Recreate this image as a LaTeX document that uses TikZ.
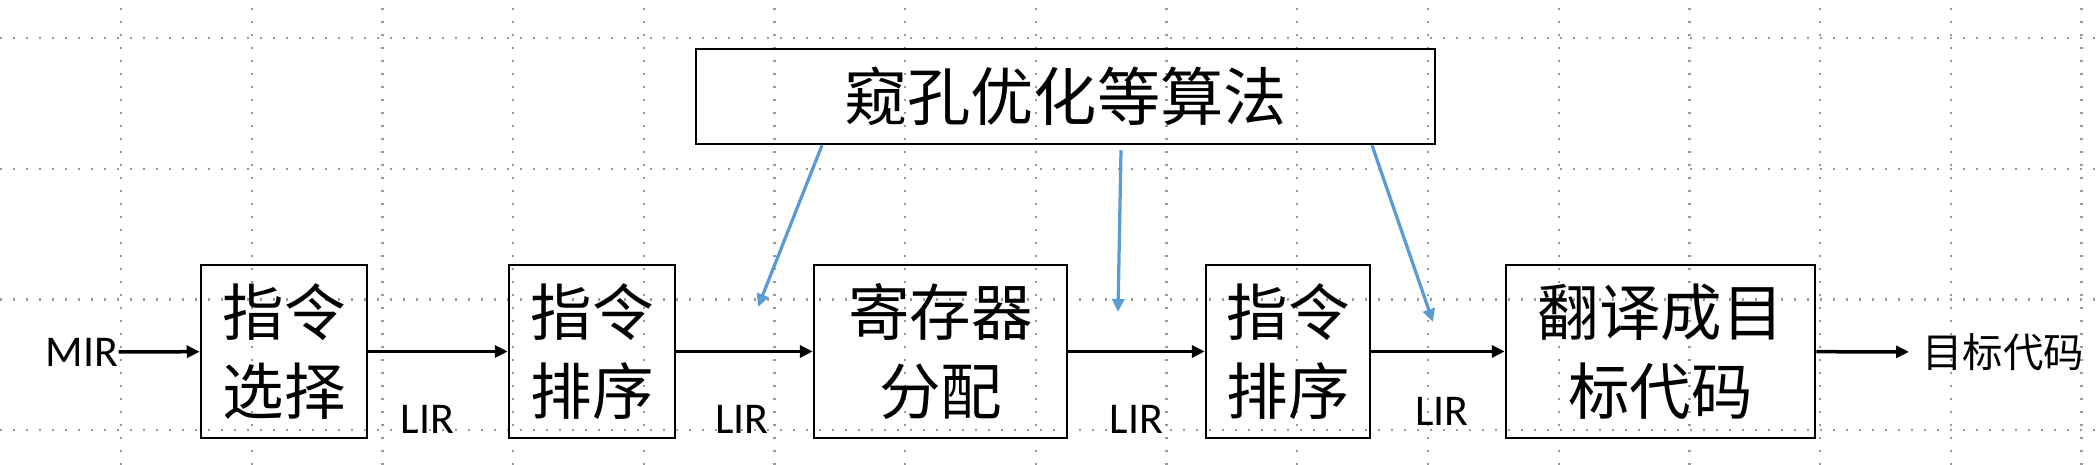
\documentclass[tikz,border=0pt]{standalone}
\usepackage{fontspec}
\setmainfont{Carlito}
\newfontfamily\cjk{Noto Sans CJK SC}
\usetikzlibrary{arrows.meta}
\definecolor{hintblue}{HTML}{5B9BD5}
\tikzset{
	passbox/.style={draw,line width=0.05cm,inner sep=0,align=center,
		font=\cjk\fontsize{35}{45}\selectfont},
	flow/.style={line width=0.07cm,-{Triangle[length=0.26cm,width=0.24cm]}},
	hint/.style={hintblue,line width=0.065cm,-{Triangle[length=0.26cm,width=0.24cm]}},
	irlabel/.style={inner sep=0,font=\fontsize{25}{25}\selectfont}
}
\begin{document}
\begin{tikzpicture}
	\useasboundingbox (0,0) rectangle (41.96,9.3);
	% dotted grid
	\foreach \i in {0,...,15}
		\draw[gray!80,line width=0.045cm,dash pattern=on 0.035cm off 0.225cm] (2.42+2.614*\i,0) -- (2.42+2.614*\i,9.3);
	\foreach \j in {0,...,3}
		\draw[gray!80,line width=0.045cm,dash pattern=on 0.035cm off 0.225cm] (0,8.54-2.614*\j) -- (41.96,8.54-2.614*\j);
	
	\node[passbox,minimum width=3.32cm,minimum height=3.46cm] (isel) at (5.68,2.27) {指令\\选择};
	\node[passbox,minimum width=3.32cm,minimum height=3.46cm] (isched1) at (11.84,2.27) {指令\\排序};
	\node[passbox,minimum width=5.06cm,minimum height=3.46cm] (ralloc) at (18.81,2.27) {寄存器\\分配};
	\node[passbox,minimum width=3.28cm,minimum height=3.46cm] (isched2) at (25.76,2.27) {指令\\排序};
	\node[passbox,minimum width=6.18cm,minimum height=3.46cm] (emit) at (33.21,2.27) {翻译成目\\标代码};
	\node[passbox,minimum width=14.78cm,minimum height=1.9cm,font=\cjk\fontsize{36}{40}\selectfont] (peep) at (21.31,7.37) {窥孔优化等算法};
	
	\node[irlabel] (mir) at (1.64,2.26) {MIR};
	\node[inner sep=0,inner xsep=0.26cm,anchor=west,font=\cjk\fontsize{23}{23}\selectfont] (target) at (38.18,2.26) {目标代码};
	\node[irlabel] at (8.55,0.92) {LIR};
	\node[irlabel] at (14.84,0.92) {LIR};
	\node[irlabel] at (22.73,0.92) {LIR};
	\node[irlabel] at (28.84,1.08) {LIR};
	
	\draw[flow] (mir) -- (isel);
	\draw[flow] (isel) -- (isched1);
	\draw[flow] (isched1) -- (ralloc);
	\draw[flow] (ralloc) -- (isched2);
	\draw[flow] (isched2) -- (emit);
	\draw[flow] (emit) -- (target);
	
	\coordinate (tip1) at (15.16,3.16);
	\coordinate (tip2) at (22.36,3.06);
	\coordinate (tip3) at (28.66,2.86);
	\draw[hint] ([xshift=-4.87cm]peep.south) -- (tip1);
	\draw[hint] ([xshift=1.11cm,yshift=-0.1cm]peep.south) -- (tip2);
	\draw[hint] ([xshift=6.13cm]peep.south) -- (tip3);
\end{tikzpicture}
\end{document}
